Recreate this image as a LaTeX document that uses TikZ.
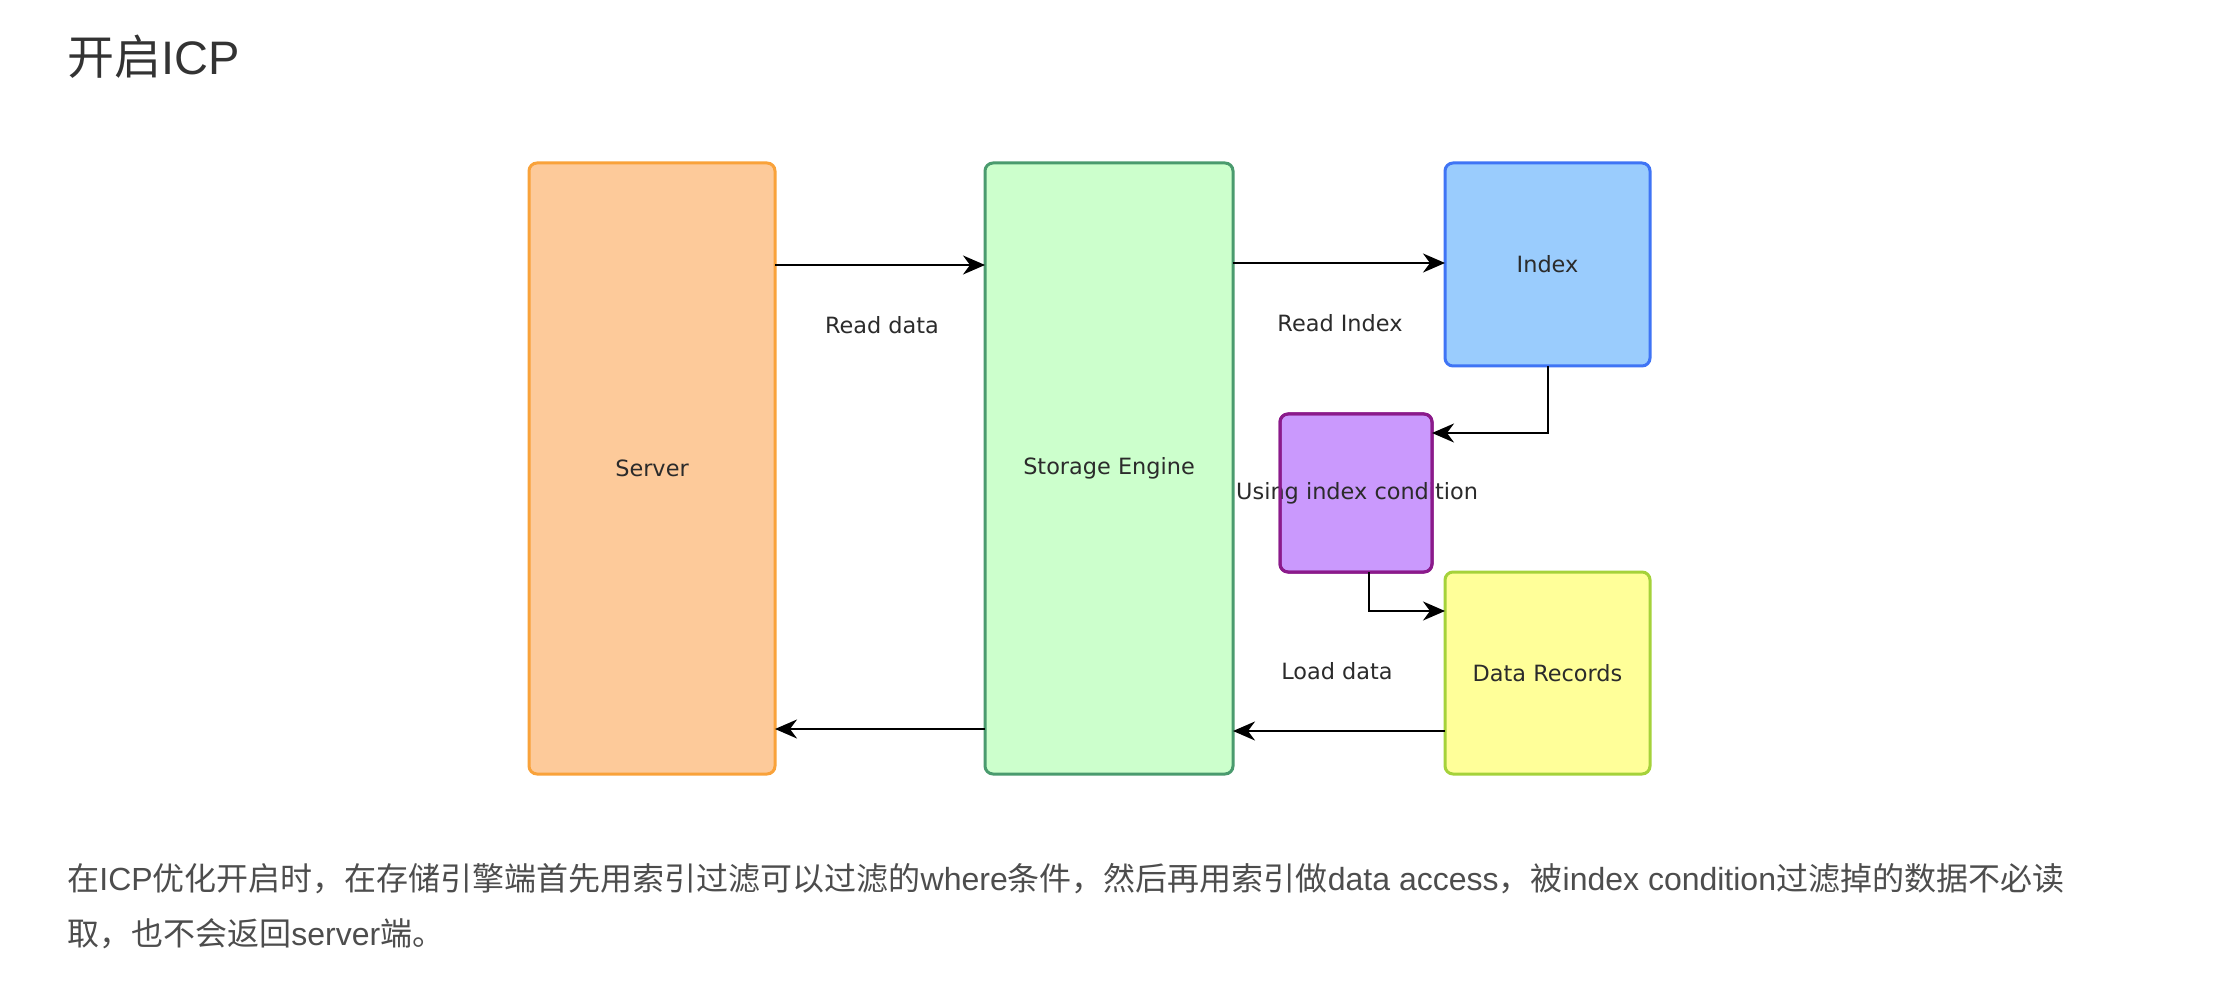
\documentclass[tikz,border=0pt]{standalone}
\usepackage{fontspec}
\setmainfont{Liberation Sans}
\newfontfamily\cjk{Noto Sans CJK SC}
\newfontfamily\lbl{DejaVu Sans}
\usetikzlibrary{arrows.meta}
\definecolor{srvfill}{HTML}{FDCA9A}
\definecolor{srvline}{HTML}{F9A23A}
\definecolor{sefill}{HTML}{CCFFCC}
\definecolor{seline}{HTML}{4A9B6E}
\definecolor{idxfill}{HTML}{9ACCFD}
\definecolor{idxline}{HTML}{3F74F5}
\definecolor{uicfill}{HTML}{CA99FD}
\definecolor{uicline}{HTML}{8B1A8B}
\definecolor{drfill}{HTML}{FFFF99}
\definecolor{drline}{HTML}{A5D23A}
\definecolor{titletext}{HTML}{333333}
\definecolor{bodytext}{HTML}{4D4D4D}
\definecolor{lbltext}{HTML}{2B2B2B}
\begin{document}
\begin{tikzpicture}[x=0.5pt,y=-0.5pt,
  box/.style={draw, rounded corners=4pt, line width=1.5pt, inner sep=0pt, outer sep=0pt,
    font=\lbl\fontsize{11.2pt}{13pt}\selectfont, text=lbltext},
  lab/.style={inner sep=0pt, font=\lbl\fontsize{11.2pt}{13pt}\selectfont, text=lbltext},
  arr/.style={draw=black, line width=1pt, -{Stealth[length=11pt,width=9.5pt,inset=3.5pt]}},
  body/.style={anchor=base west, inner sep=0pt, text=bodytext, font=\fontsize{16pt}{20pt}\selectfont}
]
\useasboundingbox (0,0) rectangle (2214,988);
\fill[white] (0,0) rectangle (2214,988);

% title
\node[anchor=base west, inner sep=0pt, text=titletext, font=\fontsize{23.5pt}{28pt}\selectfont] (title) at (67,75) {{\cjk 开启}ICP};

% boxes
\node[box, fill=srvfill, draw=srvline, minimum width=123pt, minimum height=305.5pt] (srv) at (652,468.5) {Server};
\node[box, fill=sefill, draw=seline, minimum width=124pt, minimum height=305.5pt] (se) at (1109,468.5) {Storage Engine};
\node[box, fill=idxfill, draw=idxline, minimum width=102.5pt, minimum height=101.5pt] (idx) at (1547.5,264.5) {Index};
\node[box, fill=uicfill, draw=uicline, minimum width=76pt, minimum height=79pt] (uic) at (1356,493) {};
\node[box, fill=drfill, draw=drline, minimum width=102.5pt, minimum height=101pt] (dr) at (1547.5,673) {Data Records};

% label of the purple box, its border drawn over it
\node[lab] (uictext) at (uic.east |- 0,493) {\llap{Using index cond}i\rlap{tion}};
\draw[uicline, line width=1.5pt, rounded corners=4pt] (uic.south west) rectangle (uic.north east);

% edge labels
\node[lab] (readdata) at (882,325) {Read data};
\node[lab] (readindex) at (1340,323) {Read Index};
\node[lab] (loaddata) at (1337,671) {Load data};

% connectors
\draw[arr] (srv.east |- 0,265) -- (se.west |- 0,265);
\draw[arr] (se.east |- 0,263) -- (idx.west |- 0,263);
\draw[arr] (idx.south) |- (uic.east |- 0,433);
\draw[arr] (uic.south -| 1369,0) |- (dr.west |- 0,611);
\draw[arr] (dr.west |- 0,731) -- (se.east |- 0,731);
\draw[arr] (se.west |- 0,729) -- (srv.east |- 0,729);

% body text
\node[body] (line1) at (67,890) {{\cjk 在}ICP{\cjk 优化开启时，在存储引擎端首先用索引过滤可以过滤的}where{\cjk 条件，然后再用索引做}data access{\cjk ，被}index condition{\cjk 过滤掉的数据不必读}};
\node[body] (line2) at (67,945) {{\cjk 取，也不会返回}server{\cjk 端。}};
\end{tikzpicture}
\end{document}
